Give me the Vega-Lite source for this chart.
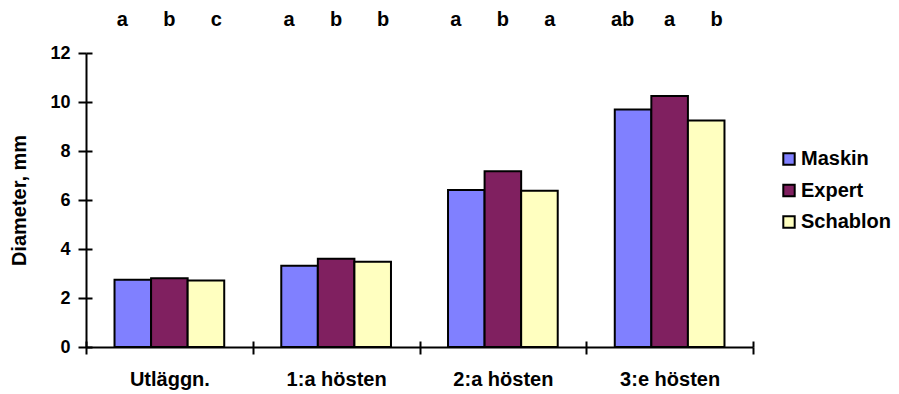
{
  "$schema": "https://vega.github.io/schema/vega-lite/v6.json",
  "width": 667,
  "height": 294,
  "autosize": {"type": "none"},
  "padding": {"left": 86, "top": 53, "right": 146, "bottom": 47},
  "background": "white",
  "config": {
    "font": "Liberation Sans",
    "view": {"stroke": null},
    "axis": {
      "domainColor": "black",
      "domainWidth": 2,
      "tickColor": "black",
      "tickWidth": 2,
      "labelColor": "black",
      "labelFont": "Liberation Sans",
      "labelFontWeight": "bold",
      "titleColor": "black",
      "titleFont": "Liberation Sans",
      "titleFontWeight": "bold",
      "grid": false
    }
  },
  "data": {
    "values": [
      {"tid": "Utläggn.", "metod": "Maskin", "diameter": 2.74, "grupp": "a"},
      {"tid": "Utläggn.", "metod": "Expert", "diameter": 2.81, "grupp": "b"},
      {"tid": "Utläggn.", "metod": "Schablon", "diameter": 2.71, "grupp": "c"},
      {"tid": "1:a hösten", "metod": "Maskin", "diameter": 3.32, "grupp": "a"},
      {"tid": "1:a hösten", "metod": "Expert", "diameter": 3.6, "grupp": "b"},
      {"tid": "1:a hösten", "metod": "Schablon", "diameter": 3.48, "grupp": "b"},
      {"tid": "2:a hösten", "metod": "Maskin", "diameter": 6.41, "grupp": "a"},
      {"tid": "2:a hösten", "metod": "Expert", "diameter": 7.17, "grupp": "b"},
      {"tid": "2:a hösten", "metod": "Schablon", "diameter": 6.38, "grupp": "a"},
      {"tid": "3:e hösten", "metod": "Maskin", "diameter": 9.69, "grupp": "ab"},
      {"tid": "3:e hösten", "metod": "Expert", "diameter": 10.24, "grupp": "a"},
      {"tid": "3:e hösten", "metod": "Schablon", "diameter": 9.25, "grupp": "b"}
    ]
  },
  "resolve": {
    "scale": {"xOffset": "independent"},
    "axis": {"x": "independent", "y": "independent"}
  },
  "layer": [
    {
      "mark": {"type": "bar", "stroke": "black", "strokeWidth": 2, "opacity": 1},
      "encoding": {
        "x": {
          "field": "tid",
          "type": "nominal",
          "sort": ["Utläggn.", "1:a hösten", "2:a hösten", "3:e hösten"],
          "scale": {"paddingInner": 0, "paddingOuter": 0},
          "axis": {
            "orient": "bottom",
            "title": null,
            "labelAngle": 0,
            "labelFontSize": 20,
            "labelPadding": 15,
            "tickSize": 7,
            "tickBand": "extent"
          }
        },
        "xOffset": {
          "field": "metod",
          "type": "nominal",
          "sort": ["Maskin", "Expert", "Schablon"],
          "scale": {"paddingInner": 0, "paddingOuter": 0.78}
        },
        "y": {
          "field": "diameter",
          "type": "quantitative",
          "scale": {"domain": [0, 12], "nice": false},
          "axis": {
            "orient": "left",
            "title": "Diameter, mm",
            "titleFontSize": 20,
            "titlePadding": 20,
            "values": [0, 2, 4, 6, 8, 10, 12],
            "labelFontSize": 18,
            "labelPadding": 8,
            "tickSize": 8
          }
        },
        "color": {
          "field": "metod",
          "type": "nominal",
          "sort": ["Maskin", "Expert", "Schablon"],
          "scale": {
            "domain": ["Maskin", "Expert", "Schablon"],
            "range": ["#8080FF", "#802060", "#FFFFC0"]
          },
          "legend": {
            "title": null,
            "orient": "none",
            "legendX": 693,
            "legendY": 96,
            "symbolType": "square",
            "symbolSize": 130,
            "symbolStrokeColor": "black",
            "symbolStrokeWidth": 2,
            "symbolOpacity": 1,
            "labelFont": "Liberation Sans",
            "labelFontSize": 20,
            "labelFontWeight": "bold",
            "labelColor": "black",
            "labelOffset": 2,
            "rowPadding": 11.5
          }
        }
      }
    },
    {
      "mark": {"type": "text", "fontSize": 20, "fontWeight": "bold", "color": "black", "baseline": "alphabetic"},
      "encoding": {
        "x": {
          "field": "tid",
          "type": "nominal",
          "sort": ["Utläggn.", "1:a hösten", "2:a hösten", "3:e hösten"],
          "axis": {
            "orient": "bottom",
            "title": null,
            "labels": false,
            "domain": false,
            "tickSize": -6,
            "tickBand": "extent"
          }
        },
        "xOffset": {
          "field": "metod",
          "type": "nominal",
          "sort": ["Maskin", "Expert", "Schablon"],
          "scale": {"padding": 0.775}
        },
        "y": {
          "datum": 13.11,
          "axis": {
            "orient": "left",
            "title": null,
            "labels": false,
            "domain": false,
            "values": [0, 2, 4, 6, 8, 10, 12],
            "tickSize": -6
          }
        },
        "text": {"field": "grupp"}
      }
    }
  ]
}
